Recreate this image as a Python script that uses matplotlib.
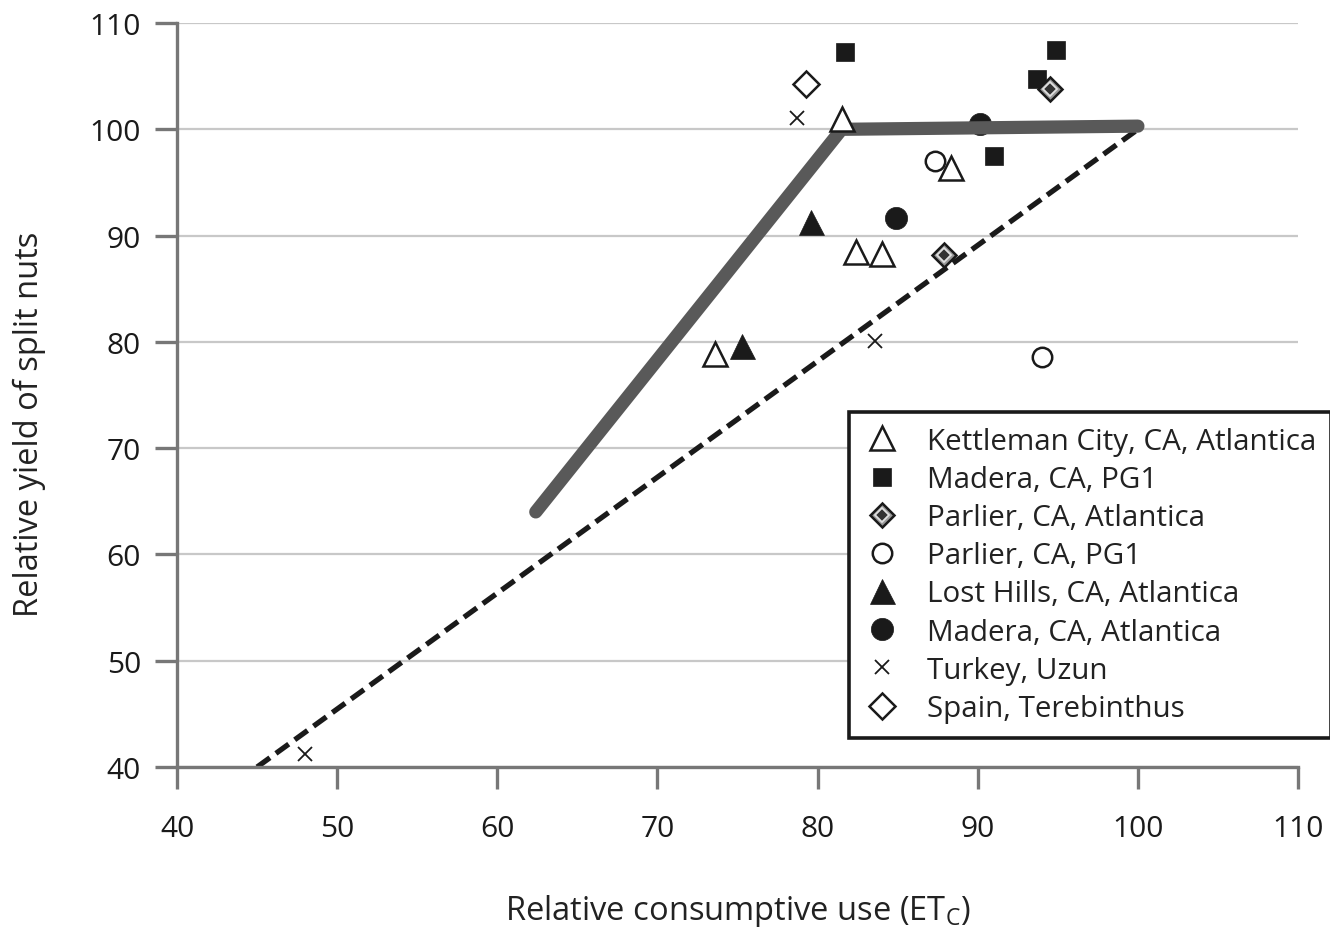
import matplotlib
matplotlib.use("Agg")
import matplotlib.pyplot as plt

plt.rcParams['font.family'] = ['Open Sans', 'DejaVu Sans']
plt.rcParams['mathtext.fontset'] = 'custom'
plt.rcParams['mathtext.rm'] = 'Open Sans'

# ---- data ----
kettleman_x = [73.6, 81.5, 82.4, 84.0, 88.3]
kettleman_y = [78.9, 101.0, 88.5, 88.3, 96.4]
madera_pg1_x = [81.7, 94.9, 93.7, 91.0]
madera_pg1_y = [107.3, 107.5, 104.7, 97.5]
parlier_atl_x = [94.5, 87.9]
parlier_atl_y = [103.8, 88.2]
parlier_pg1_x = [87.35, 94.0]
parlier_pg1_y = [97.0, 78.6]
lost_hills_x = [79.6, 75.3]
lost_hills_y = [91.3, 79.6]
madera_atl_x = [84.9, 90.15]
madera_atl_y = [91.7, 100.5]
turkey_x = [78.7, 83.6, 48.0]
turkey_y = [101.1, 80.1, 41.2]
spain_x = [79.25]
spain_y = [104.25]

model_x = [62.4, 81.5, 100.0]
model_y = [64.0, 100.0, 100.3]
one2one_x = [45.0, 100.0]
one2one_y = [40.0, 100.0]

xticks = [40, 50, 60, 70, 80, 90, 100, 110]
yticks = [40, 50, 60, 70, 80, 90, 100, 110]

labels = ["Kettleman City, CA, Atlantica", "Madera, CA, PG1", "Parlier, CA, Atlantica",
          "Parlier, CA, PG1", "Lost Hills, CA, Atlantica", "Madera, CA, Atlantica",
          "Turkey, Uzun", "Spain, Terebinthus"]

# ---- figure ----
fig = plt.figure(figsize=(13.3, 9.28), dpi=100)
ax = fig.add_axes([0.1331, 0.1724, 0.976 - 0.1331, 0.9741 - 0.1724])
ax.set_xlim(40, 110)
ax.set_ylim(40, 110)

axis_grey = '#777777'
ink = '#1a1a1a'

ax.set_xticks(xticks)
ax.set_yticks(yticks)
ax.grid(axis='y', color='#c8c8c8', lw=1.6, zorder=0)
ax.set_axisbelow(True)
for s in ['top', 'right']:
    ax.spines[s].set_visible(False)
for s in ['left', 'bottom']:
    ax.spines[s].set_color(axis_grey)
    ax.spines[s].set_linewidth(2.4)
ax.tick_params(axis='both', length=16, width=2.4, color=axis_grey, labelsize=21.5,
               labelcolor=ink, pad=10)
ax.tick_params(axis='x', pad=18)

# lines
ax.plot(one2one_x, one2one_y, color=ink, lw=3.8, ls=(0, (3.0, 1.4)), zorder=2,
        solid_capstyle='butt', dash_capstyle='butt')
ax.plot(model_x, model_y, color='#595959', lw=9.5, solid_capstyle='round',
        solid_joinstyle='miter', zorder=3)

# points
mew = 1.8
kt, = ax.plot(kettleman_x, kettleman_y, ls='none', marker='^', ms=17, mfc='white',
              mec=ink, mew=mew, zorder=4)
mp, = ax.plot(madera_pg1_x, madera_pg1_y, ls='none', marker='s', ms=13.5, mfc=ink,
              mec=ink, mew=0.5, zorder=4)
pa1, = ax.plot(parlier_atl_x, parlier_atl_y, ls='none', marker='D', ms=12.5, mfc='#9a9a9a',
               mec=ink, mew=mew, zorder=4)
pa2, = ax.plot(parlier_atl_x, parlier_atl_y, ls='none', marker='D', ms=7.5, mfc='#333333',
               mec='#e0e0e0', mew=1.3, zorder=4)
pp, = ax.plot(parlier_pg1_x, parlier_pg1_y, ls='none', marker='o', ms=14, mfc='white',
              mec=ink, mew=mew, zorder=4)
lh, = ax.plot(lost_hills_x, lost_hills_y, ls='none', marker='^', ms=18, mfc=ink,
              mec=ink, mew=0.5, zorder=4)
ma, = ax.plot(madera_atl_x, madera_atl_y, ls='none', marker='o', ms=16, mfc=ink,
              mec=ink, mew=0.5, zorder=2.5)
tu, = ax.plot(turkey_x, turkey_y, ls='none', marker='x', ms=10, mec=ink, mew=1.3, zorder=4)
sp, = ax.plot(spain_x, spain_y, ls='none', marker='D', ms=13, mfc='white',
              mec=ink, mew=mew, zorder=4)

handles = [kt, mp, (pa1, pa2), pp, lh, ma, tu, sp]
leg = fig.legend(handles, labels, loc='upper left',
                 bbox_to_anchor=(849 / 1330, 1 - 413 / 928), borderaxespad=0,
                 fontsize=21.3, frameon=True, fancybox=False, edgecolor=ink,
                 framealpha=1, handlelength=1.2, handletextpad=0.95, labelspacing=0.31,
                 borderpad=0.5, numpoints=1, labelcolor='#222222')
leg.get_frame().set_linewidth(2.6)

ax.set_xlabel('Relative consumptive use (ET$_\\mathregular{C}$)', fontsize=23.5,
              color='#222222', labelpad=35)
ax.set_ylabel('Relative yield of split nuts', fontsize=23.5, color='#222222')
ax.yaxis.set_label_coords(-0.117, 0.462)

fig.savefig('out.png', dpi=100)
